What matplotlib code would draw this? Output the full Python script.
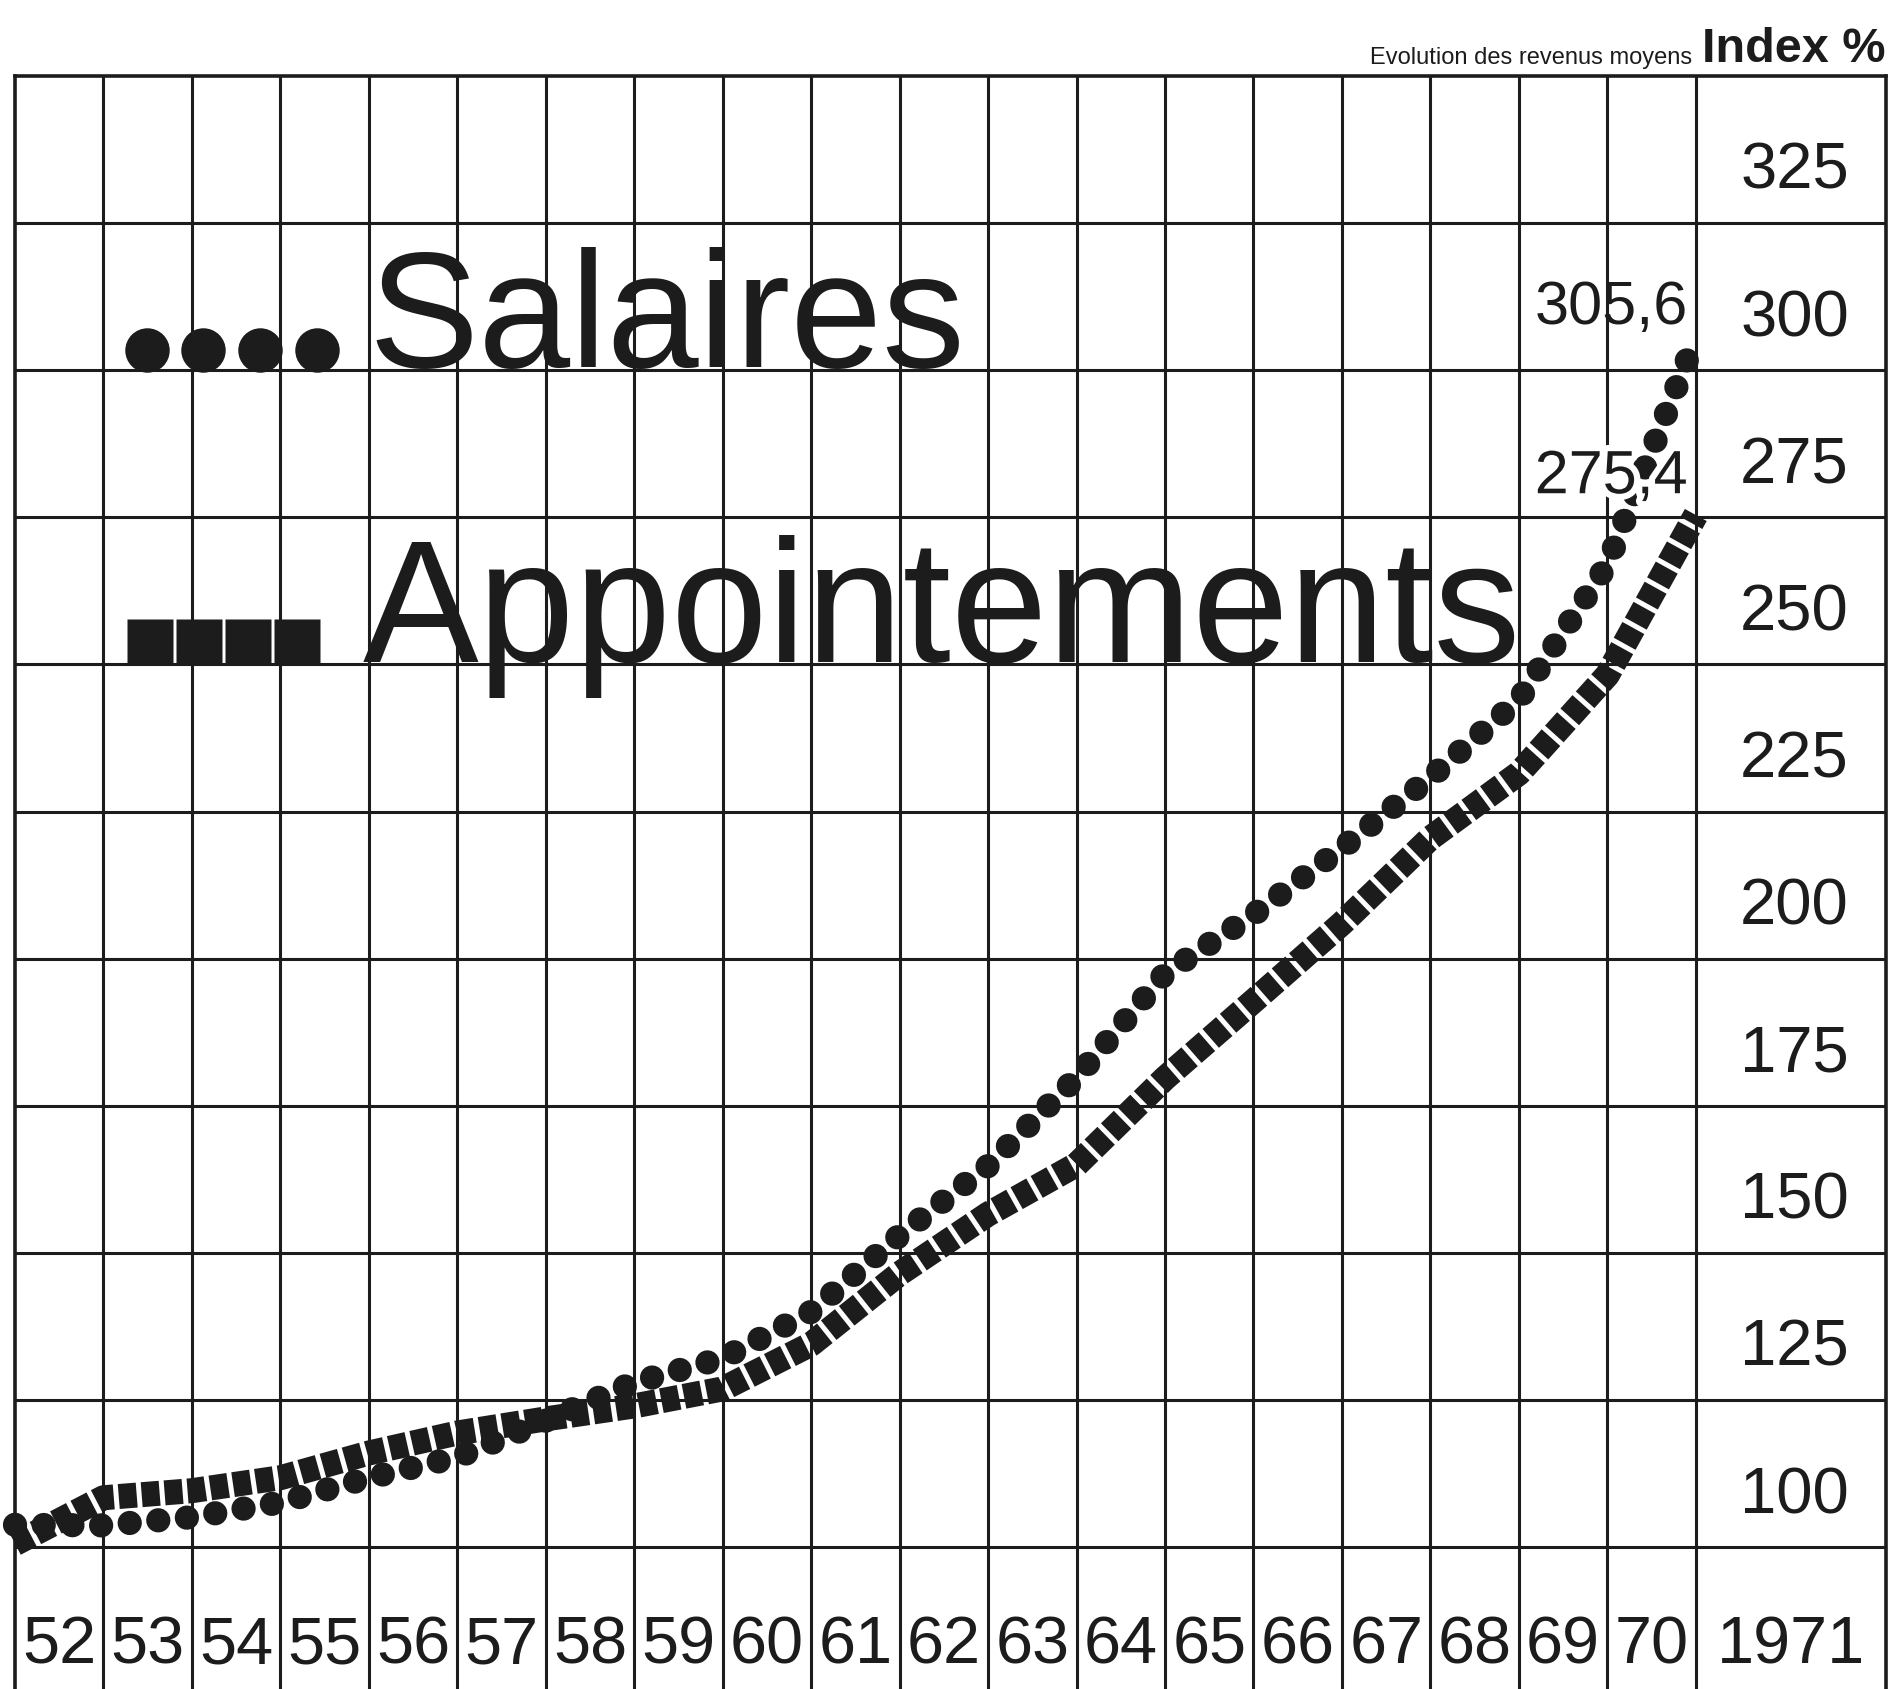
import numpy as np
import matplotlib
matplotlib.use("Agg")
import matplotlib.pyplot as plt
import matplotlib.patheffects as pe
from matplotlib import font_manager

# index values (1952 .. 1971)
years = list(range(1952, 1972))
salaires = [103.8, 103.7, 105.1, 107.6, 111.8, 115.3, 121.5, 128.0, 132.1, 140.0,
            153.0, 164.8, 179.8, 197.5, 207.5, 218.8, 230.8, 244.0, 267.0, 305.6]
appointements = [100.6, 108.4, 109.6, 111.8, 116.0, 119.4, 121.8, 124.0, 126.9, 134.5,
                 146.5, 156.6, 165.0, 179.7, 192.8, 206.0, 220.5, 231.5, 248.2, 275.4]
index_ticks = [100, 125, 150, 175, 200, 225, 250, 275, 300, 325]
year_labels = ["52", "53", "54", "55", "56", "57", "58", "59", "60", "61",
               "62", "63", "64", "65", "66", "67", "68", "69", "70", "1971"]

INK = "#1c1c1c"
W, H = 1895, 1689

names = {f.name for f in font_manager.fontManager.ttflist}
NARROW = "Liberation Sans Narrow" if "Liberation Sans Narrow" in names else None
plt.rcParams["font.family"] = ["Liberation Sans", "DejaVu Sans"]


def main():
    fig = plt.figure(figsize=(W / 100, H / 100), dpi=100)
    fig.patch.set_facecolor("white")
    ax = fig.add_axes([15 / W, 0, 1871 / W, (H - 76) / H])
    x_right = 1973.15
    ax.set_xlim(years[0], x_right)
    ax.set_ylim(75.9, 350)
    ax.set_xticks([])
    ax.set_yticks([])

    # grid
    for yr in years[1:]:
        ax.axvline(yr, color=INK, lw=2.2, zorder=1)
    for v in index_ticks:
        ax.axhline(v, color=INK, lw=2.2, zorder=1)
    for side in ["left", "top", "right"]:
        ax.spines[side].set_linewidth(2.6)
        ax.spines[side].set_color(INK)
    ax.spines["bottom"].set_visible(False)

    # series: big dots / chunky dashes
    ax.plot(years, salaires, color=INK, lw=17.5, linestyle=(0, (0.001, 1.18)),
            dash_capstyle="round", zorder=4, clip_on=False)
    ax.plot(years, appointements, color=INK, lw=18, linestyle=(0, (0.72, 0.2)),
            dash_capstyle="butt", zorder=5, clip_on=False)

    # end values
    ax.text(1970.91, 307.8, f"{salaires[-1]:.1f}".replace(".", ","),
            ha="right", va="baseline", fontsize=44, color=INK, zorder=6)
    ax.text(1970.91, 279.1, f"{appointements[-1]:.1f}".replace(".", ","),
            ha="right", va="baseline", fontsize=44, color=INK, zorder=6,
            path_effects=[pe.withStroke(linewidth=9, foreground="white")])

    # index labels in the last column
    for v in index_ticks:
        ax.text(1972.73, v + 5.8, str(v), ha="right", va="baseline",
                fontsize=47, color=INK)

    # year labels under the grid
    for i, lab in enumerate(year_labels):
        if i < len(year_labels) - 1:
            xc = years[i] + 0.5
        else:
            xc = (years[-1] + x_right) / 2
        ax.text(xc, 80.3, lab, ha="center", va="baseline", fontsize=48, color=INK)

    # big legend labels
    xs = 1953.49 + 0.64 * np.arange(4)
    ax.plot(xs, [303.4] * 4, "o", ms=32, color=INK, mec="none", zorder=4)
    ax.text(1956.0, 300.6, "Salaires", ha="left", va="baseline",
            fontsize=119, color=INK, zorder=3)
    xs = 1953.53 + 0.554 * np.arange(4)
    ax.plot(xs, [253.8] * 4, "s", ms=33, color=INK, mec="none", zorder=4)
    ax.text(1955.93, 250.5, "Appointements", ha="left", va="baseline",
            fontsize=125, color=INK, zorder=3)

    # header
    fig.text(1692 / W, 1 - 64 / H, "Evolution des revenus moyens", ha="right",
             va="baseline", fontsize=17, color=INK)
    if NARROW:
        fig.text(1885 / W, 1 - 62 / H, "Index %", ha="right", va="baseline",
                 fontsize=42, fontweight="bold", family=NARROW, color=INK)
    else:
        fig.text(1885 / W, 1 - 62 / H, "Index %", ha="right", va="baseline",
                 fontsize=35, fontweight="bold", color=INK)

    fig.savefig("out.png", dpi=100, facecolor="white")
    plt.close(fig)


if __name__ == "__main__":
    main()
